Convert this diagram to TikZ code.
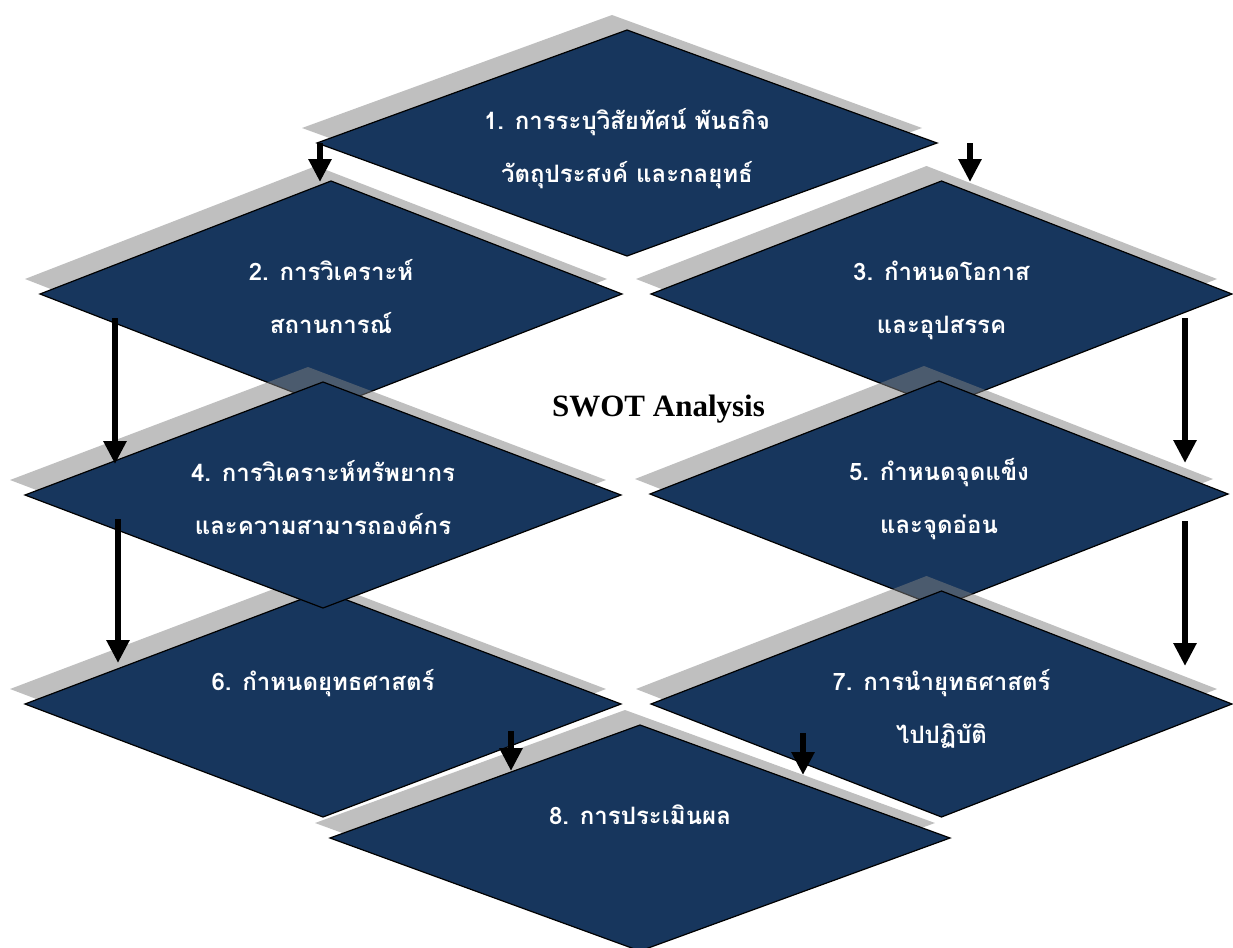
\documentclass[tikz,border=0pt]{standalone}
\usepackage{fontspec}
\setmainfont{Liberation Serif}
\newfontfamily\thaifont[Script=Thai]{Loma}
\usetikzlibrary{shapes.geometric,shadows,arrows.meta,calc}
\definecolor{stepnavy}{RGB}{23,54,93}
\begin{document}
\begin{tikzpicture}[x=1pt,y=-1pt,
  stepbox/.style={diamond, draw=black, line width=1.2pt, fill=stepnavy,
    inner sep=0pt, outer sep=0pt, minimum height=226pt, minimum width=#1,
    drop shadow={shadow xshift=-15pt, shadow yshift=15pt, fill=black!50, opacity=0.5}},
  tline/.style={text=white, anchor=base, inner sep=0pt,
    font=\thaifont\bfseries\fontsize{24}{28}\selectfont},
  flow/.style={line width=6pt, -{Triangle[width=22pt,length=23pt]}},
  title/.style={anchor=base, inner sep=0pt, font=\bfseries\fontsize{31}{36}\selectfont}]
\useasboundingbox (0,0) rectangle (1233,947);

% steps, drawn back to front
\node[stepbox=620pt] (d1) at (627,143) {};
\node[stepbox=582pt] (d2) at (331,294) {};
\node[stepbox=581pt] (d3) at (941.5,294) {};
\node[stepbox=596pt] (d6) at (323,704) {};
\node[stepbox=596pt] (d4) at (323,495) {};
\node[stepbox=578pt] (d5) at (939,494) {};
\node[stepbox=581pt] (d7) at (941.5,704) {};
\node[stepbox=620pt] (d8) at (640,838) {};

% step labels
\node[tline] (t1a) at ($(d1.center)+(0,-14)$) {1. การระบุวิสัยทัศน์ พันธกิจ};
\node[tline] (t1b) at ($(d1.center)+(0,39)$) {วัตถุประสงค์ และกลยุทธ์};
\node[tline] (t2a) at ($(d2.center)+(0,-14)$) {2. การวิเคราะห์};
\node[tline] (t2b) at ($(d2.center)+(0,39)$) {สถานการณ์};
\node[tline] (t3a) at ($(d3.center)+(0,-14)$) {3. กำหนดโอกาส};
\node[tline] (t3b) at ($(d3.center)+(0,39)$) {และอุปสรรค};
\node[tline] (t4a) at ($(d4.center)+(0,-14)$) {4. การวิเคราะห์ทรัพยากร};
\node[tline] (t4b) at ($(d4.center)+(0,39)$) {และความสามารถองค์กร};
\node[tline] (t5a) at ($(d5.center)+(0,-14)$) {5. กำหนดจุดแข็ง};
\node[tline] (t5b) at ($(d5.center)+(0,39)$) {และจุดอ่อน};
\node[tline] (t6a) at ($(d6.center)+(0,-14)$) {6. กำหนดยุทธศาสตร์};
\node[tline] (t7a) at ($(d7.center)+(0,-14)$) {7. การนำยุทธศาสตร์};
\node[tline] (t7b) at ($(d7.center)+(0,39)$) {ไปปฏิบัติ};
\node[tline] (t8a) at ($(d8.center)+(0,-14)$) {8. การประเมินผล};

\node[title] (swot) at (658.5,416) {SWOT Analysis};

% arrow end points
\coordinate (a1s) at (320,143);  \coordinate (a1e) at (320,182);
\coordinate (a2s) at (970,143);  \coordinate (a2e) at (970,182);
\coordinate (a3s) at (115,318);  \coordinate (a3e) at (115,464);
\coordinate (a4s) at (118,519);  \coordinate (a4e) at (118,663);
\coordinate (a5s) at (1185,318); \coordinate (a5e) at (1185,463);
\coordinate (a6s) at (1185,521); \coordinate (a6e) at (1185,666);
\coordinate (a7s) at (511,731);  \coordinate (a7e) at (511,771);
\coordinate (a8s) at (803,733);  \coordinate (a8e) at (803,775);

\draw[flow] (a1s) -- (a1e);
\draw[flow] (a2s) -- (a2e);
\draw[flow] (a3s) -- (a3e);
\draw[flow] (a4s) -- (a4e);
\draw[flow] (a5s) -- (a5e);
\draw[flow] (a6s) -- (a6e);
\draw[flow] (a7s) -- (a7e);
\draw[flow] (a8s) -- (a8e);
\end{tikzpicture}
\end{document}
